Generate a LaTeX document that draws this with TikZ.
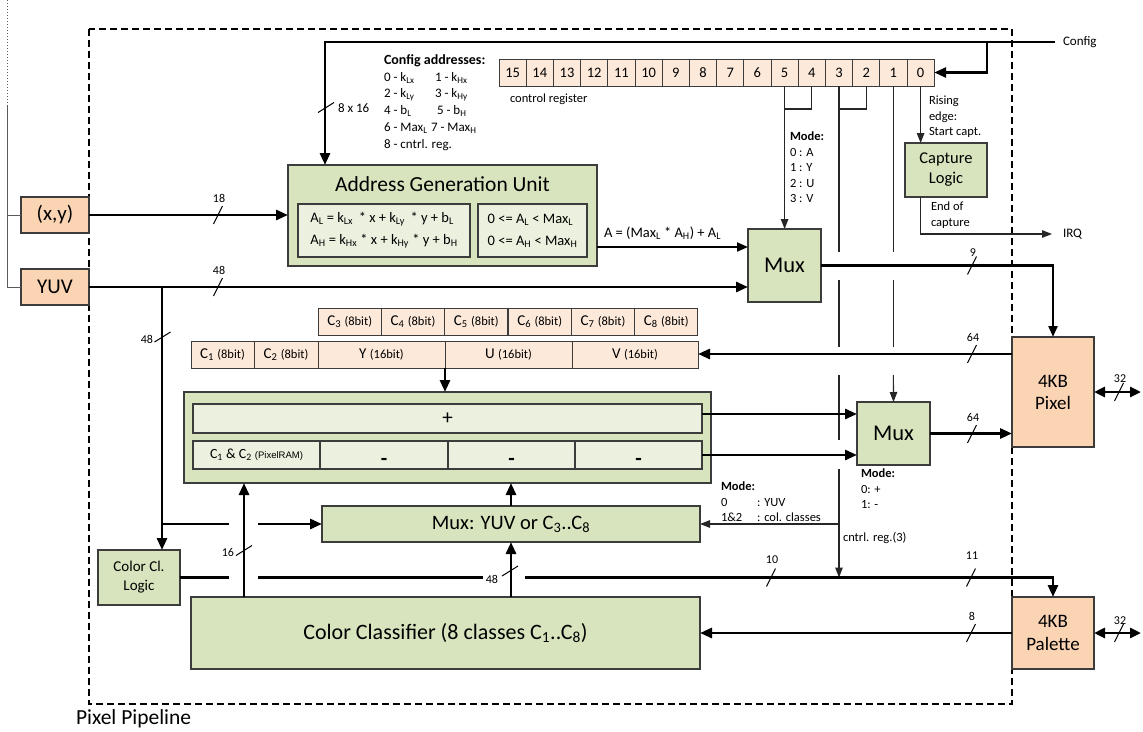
\documentclass[tikz,border=0pt]{standalone}
\usepackage{fontspec}
\setmainfont{Carlito}
\newfontfamily\arialfont{Liberation Sans}
\usetikzlibrary{arrows.meta,calc}

\definecolor{blockgreen}{HTML}{D7E4BD}
\definecolor{innergreen}{HTML}{EBF1DE}
\definecolor{memorange}{HTML}{FBD4B4}
\definecolor{regorange}{HTML}{FDE9D9}
\definecolor{edgegray}{HTML}{3C3C3C}
\definecolor{wiregray}{HTML}{595959}

\newcommand{\sbs}[1]{\textsubscript{#1}}
\newcommand{\setfs}[2]{\fontsize{#1}{#2}\selectfont}
% slash across a horizontal bus: name, x, y, label y, label
\newcommand{\busmarkh}[5]{%
  \draw[markline] (#2-4.5,#3+9) -- (#2+4.5,#3-9);
  \node[lbl] (#1) at (#2+1,#4) {#5};}
% slash across a vertical bus: x, y
\newcommand{\busmarkv}[2]{%
  \draw[markline] (#1-8,#2+5) -- (#1+8,#2-5);}

\begin{document}
\begin{tikzpicture}[x=1pt,y=-1pt,
  every node/.style={inner sep=0pt,outer sep=0pt},
  block/.style={draw=edgegray,line width=1.3pt,align=center},
  greenblock/.style={block,fill=blockgreen},
  innerblock/.style={block,fill=innergreen,line width=1.1pt},
  memblock/.style={block,fill=memorange},
  regcell/.style={block,fill=regorange,line width=1pt},
  lbl/.style={font=\setfs{12}{14}},
  note/.style={font=\setfs{12.5}{15.5},align=left,anchor=north west},
  busline/.style={line width=2.8pt},
  busarrow/.style={busline,-{Triangle[length=12pt,width=10pt]}},
  busboth/.style={busline,{Triangle[length=11pt,width=10pt]}-{Triangle[length=11pt,width=10pt]}},
  medarrow/.style={line width=2pt,-{Triangle[length=11pt,width=9pt]}},
  thinline/.style={line width=1.1pt,draw=black!85},
  thinarrow/.style={thinline,-{Triangle[length=10pt,width=7.5pt]}},
  markline/.style={line width=1pt},
  frame/.style={line width=1.3pt,dash pattern=on 7pt off 4pt},
  sideline/.style={line width=1pt,draw=wiregray},
  cfgtext/.style={font=\setfs{13}{15},anchor=west},
]
\useasboundingbox (0,0) rectangle (1143,731);

% ---------------- pipeline frame ----------------
\draw[frame] (89,29) rectangle (1012,704);
\node[font=\setfs{21.5}{24},anchor=west] (pp) at (76,719) {Pixel Pipeline};

% ---------------- inputs ----------------
\node[memblock,minimum width=68pt,minimum height=36pt,font=\setfs{21}{24}] (xy) at (55,215) {(x,y)};
\node[memblock,minimum width=68pt,minimum height=36pt,font=\setfs{21}{24}] (yuv) at (55,287) {YUV};

\coordinate (ltop) at (7,0);
\coordinate (lmid) at (7,105);
\draw[sideline,dotted] (ltop) -- (lmid);
\draw[sideline] (lmid) |- (yuv.west);
\draw[sideline] (lmid |- xy.west) -- (xy.west);

% ---------------- address generation ----------------
\node[greenblock,minimum width=309pt,minimum height=101pt] (agu) at (442.5,215.5) {};
\node[font=\setfs{21.5}{24}] (agut) at (442.5,184) {Address Generation Unit};
\node[innerblock,minimum width=172pt,minimum height=53pt,align=left,font=\setfs{14.5}{22}] (agu1) at (384,230.5)
  {A\sbs{L} = k\sbs{Lx} \,* x + k\sbs{Ly} \,* y + b\sbs{L}\\A\sbs{H} = k\sbs{Hx} * x + k\sbs{Hy} * y + b\sbs{H}};
\node[innerblock,minimum width=109pt,minimum height=53pt,align=left,font=\setfs{14.5}{22}] (agu2) at (532.5,230.5)
  {0 <= A\sbs{L} < Max\sbs{L}\\0 <= A\sbs{H} < Max\sbs{H}};

% ---------------- config addresses ----------------
\node[cfgtext,font=\setfs{14}{16}\bfseries] (cfa) at (384,61) {Config addresses:};
\node[cfgtext] (cfa0) at (384,78) {0 - k\sbs{Lx}};
\node[cfgtext] (cfa1) at (435,78) {1 - k\sbs{Hx}};
\node[cfgtext] (cfa2) at (384,95) {2 - k\sbs{Ly}};
\node[cfgtext] (cfa3) at (435,95) {3 - k\sbs{Hy}};
\node[cfgtext] (cfa4) at (384,111) {4 - b\sbs{L}};
\node[cfgtext] (cfa5) at (437,111) {5 - b\sbs{H}};
\node[cfgtext] (cfa6) at (384,128) {6 - Max\sbs{L}};
\node[cfgtext] (cfa7) at (431,128) {7 - Max\sbs{H}};
\node[cfgtext] (cfa8) at (384,145) {8 - cntrl. reg.};

% ---------------- control register ----------------
\foreach \b in {0,...,15}{
  \pgfmathsetmacro\cx{499+27.2*(15-\b)+13.6}
  \node[regcell,minimum width=27.2pt,minimum height=27pt,font=\setfs{14.5}{16}] (reg\b) at (\cx,72.5) {\b};
}
\node[font=\setfs{12.5}{14},anchor=west] (creg) at (510,99) {control register};

\node[font=\setfs{13}{15},anchor=west,inner xsep=8pt] (cfg) at (1055,42) {Config};
\coordinate (cfgtap) at (987,42);

% ---------------- capture logic ----------------
\node[greenblock,minimum width=82pt,minimum height=54pt,font=\setfs{16.5}{20}] (cap) at (946,170) {Capture\\Logic};
\node[note] (rise) at (929,96) {Rising\\edge:\\Start capt.};
\node[note] (eoc) at (931,202) {End of\\capture};
\node[font=\setfs{13}{15},anchor=west,inner xsep=11pt] (irq) at (1052,234) {IRQ};

% ---------------- output multiplexer ----------------
\node[greenblock,minimum width=73pt,minimum height=73pt,font=\setfs{22.5}{24}] (mux1) at (784.5,265.5) {Mux};
\node[note] (mode1) at (790,132) {\textbf{Mode:}\\0 : A\\1 : Y\\2 : U\\3 : V};
\node[font=\setfs{14.5}{16},anchor=west] (aform) at (604,233) {A = (Max\sbs{L} * A\sbs{H}) + A\sbs{L}};

% ---------------- pixel memory ----------------
\node[memblock,minimum width=82pt,minimum height=110pt,font=\setfs{19}{22}] (pix) at (1053,392) {4KB\\Pixel};
\node[memblock,minimum width=82pt,minimum height=72pt,font=\setfs{19}{23}] (pal) at (1053,633) {4KB\\Palette};
\coordinate (pixio) at (1141,392);
\coordinate (palio) at (1141,633);

% ---------------- pixel word registers ----------------
\node[regcell,minimum width=63pt,minimum height=27pt,font=\setfs{15}{16}] (c1) at (222.5,354.5) {C\sbs{1} {\setfs{12.5}{13}(8bit)}};
\node[regcell,minimum width=64pt,minimum height=27pt,font=\setfs{15}{16}] (c2) at (286,354.5) {C\sbs{2} {\setfs{12.5}{13}(8bit)}};
\node[regcell,minimum width=127pt,minimum height=27pt,font=\setfs{15}{16}] (cy) at (381.5,354.5) {Y {\setfs{12.5}{13}(16bit)}};
\node[regcell,minimum width=127pt,minimum height=27pt,font=\setfs{15}{16}] (cu) at (508.5,354.5) {U {\setfs{12.5}{13}(16bit)}};
\node[regcell,minimum width=126pt,minimum height=27pt,font=\setfs{15}{16}] (cv) at (635,354.5) {V {\setfs{12.5}{13}(16bit)}};
\foreach \k/\cx in {3/349.7,4/413,5/476.3,6/539.7,7/603,8/666.3}{
  \node[regcell,minimum width=63.3pt,minimum height=27pt,font=\setfs{15}{16}] (c\k) at (\cx,321.5) {C\sbs{\k} {\setfs{12.5}{13}(8bit)}};
}

% ---------------- adder / subtractor ----------------
\node[greenblock,minimum width=527pt,minimum height=91pt] (big) at (447.5,437.5) {};
\node[innerblock,minimum width=509pt,minimum height=29pt,font=\setfs{21}{22}] (plus) at (447.5,418.5) {+};
\node[innerblock,minimum width=127pt,minimum height=28pt,font=\setfs{14}{15}] (m0) at (256.5,455)
  {C\sbs{1} \& C\sbs{2} {\arialfont\setfs{9.5}{10}(PixelRAM)}};
\node[innerblock,minimum width=128pt,minimum height=28pt] (m1) at (384,455) {};
\node[innerblock,minimum width=127pt,minimum height=28pt] (m2) at (511.5,455) {};
\node[innerblock,minimum width=127pt,minimum height=28pt] (m3) at (638.5,455) {};
\node[font=\setfs{21}{22}\bfseries,anchor=base] (m1t) at (m1.center |- 0,465) {-};
\node[font=\setfs{21}{22}\bfseries,anchor=base] (m2t) at (m2.center |- 0,465) {-};
\node[font=\setfs{21}{22}\bfseries,anchor=base] (m3t) at (m3.center |- 0,465) {-};

\node[greenblock,minimum width=73pt,minimum height=63pt,font=\setfs{22.5}{24}] (mux2) at (893.5,433.5) {Mux};
\node[note] (mode2) at (861,469) {\textbf{Mode:}\\0: +\\1: -};

% ---------------- colour classification ----------------
\node[greenblock,minimum width=378pt,minimum height=36pt,font=\setfs{20.5}{24}] (muxyuv) at (511,524) {Mux: YUV or C\sbs{3}..C\sbs{8}};
\node[note] (mode3) at (721,480) {\begin{tabular}{@{}l@{\,}l@{}}\textbf{Mode:}&\\0&: YUV\\1\&2&: col. classes\end{tabular}};
\node[font=\setfs{12.5}{14},anchor=west] (creg3) at (843,538) {cntrl. reg.(3)};
\node[greenblock,minimum width=82pt,minimum height=55pt,font=\setfs{15}{19}] (ccl) at (139,577.5) {Color Cl.\\Logic};
\node[greenblock,minimum width=509pt,minimum height=72pt,font=\setfs{22}{24}] (cc) at (445.5,633) {Color Classifier (8 classes C\sbs{1}..C\sbs{8})};

% ---------------- helper levels ----------------
\coordinate (ytap) at (0,109);
\coordinate (yagu) at (0,247);
\coordinate (ypixrd) at (0,354);
\coordinate (yadd) at (0,414);
\coordinate (ysub) at (0,455);
\coordinate (ysel) at (0,524);
\coordinate (ycls) at (0,577.5);
\coordinate (g1a) at (0,252);
\coordinate (g1b) at (0,280);
\coordinate (g2a) at (0,347);
\coordinate (g2b) at (0,375);
\coordinate (g3a) at (0,440);
\coordinate (g3b) at (0,469);
\coordinate (ysplit) at (162,287);
\coordinate (gapL) at (229,0);
\coordinate (gapR) at (258,0);
\coordinate (cfeed) at (244,0);
\coordinate (cgapL) at (483,0);
\coordinate (cgapR) at (525,0);

% ---------------- connectors ----------------
\draw[busarrow] (cfg.west) -| ([xshift=37pt]agu.north west);
\draw[busarrow] (cfgtap) |- (reg0.east);
\draw[busarrow] (xy.east) -- (xy.east -| agu.west);
\draw[busarrow] (yuv.east) -- (yuv.east -| mux1.west);
\draw[medarrow] (agu.east |- yagu) -- (mux1.west |- yagu);

% control register fields
\draw[thinline] (reg4.south) |- (reg5.south |- ytap);
\draw[thinline] (reg2.south) |- (reg3.south |- ytap);
\draw[thinarrow] (reg5.south) -- (reg5.south |- mux1.north);
\draw[thinline] (reg3.south) -- (reg3.south |- g1a) (reg3.south |- g1b) -- (reg3.south |- g2a)
                (reg3.south |- g2b) -- (reg3.south |- g3a);
\draw[thinarrow] (reg3.south |- g3b) -- (reg3.south |- ycls);
\draw[thinarrow] (reg3.south |- ysel) -- (muxyuv.east |- ysel);
\draw[thinline] (reg1.south) -- (reg1.south |- g1a) (reg1.south |- g1b) -- (reg1.south |- g2a);
\draw[thinarrow] (reg1.south |- g2b) -- (mux2.north);
\draw[thinarrow] (reg0.south) -- (reg0.south |- cap.north);
\draw[thinarrow] (reg0.south |- cap.south) |- (irq.west);

% pixel data path
\draw[medarrow,line width=2.2pt] (mux1.east) -| (pix.north);
\draw[busarrow] (pix.west |- ypixrd) -- (cv.east |- ypixrd);
\draw[busarrow] (cy.south east) -- (cy.south east |- big.north);
\draw[busarrow] (plus.east |- yadd) -- (mux2.west |- yadd);
\draw[busarrow] (m3.east |- ysub) -- (mux2.west |- ysub);
\draw[busarrow] (mux2.east) -- (mux2.east -| pix.west);
\draw[busboth] (pix.east) -- (pixio);
\draw[busboth] (pal.east) -- (palio);

% YUV to colour classification
\draw[busarrow] (ysplit) -- (ysplit |- ccl.north);
\draw[busline] (ysplit |- ysel) -- (gapL |- ysel);
\draw[busarrow] (gapR |- ysel) -- (muxyuv.west |- ysel);
\draw[busarrow] (cfeed |- cc.north) -- (cfeed |- big.south);
\draw[busarrow] (cc.north -| muxyuv.south) -- (muxyuv.south);
\draw[busarrow] (muxyuv.north) -- (muxyuv.north |- big.south);
\draw[busline] (ccl.east) -- (gapL |- ycls);
\draw[busline] (gapR |- ycls) -- (cgapL |- ycls);
\draw[busarrow] (cgapR |- ycls) -| (pal.north);
\draw[busarrow] (pal.west) -- (cc.east);

% ---------------- bus widths ----------------
\busmarkh{w18}{218}{215}{198}{18}
\busmarkh{w48a}{218}{287}{270}{48}
\busmarkh{w9}{972}{265.5}{253}{9}
\busmarkh{w64a}{972}{354}{337}{64}
\busmarkh{w64b}{972}{434}{417}{64}
\busmarkh{w32a}{1119}{392}{379}{32}
\busmarkh{w10}{771}{577.5}{560}{10}
\busmarkh{w11}{971}{577.5}{556}{11}
\busmarkh{w8}{971}{633}{616}{8}
\busmarkh{w32b}{1119}{633}{621}{32}

\busmarkv{326}{107.5}
\node[font=\setfs{13}{15},anchor=west] (w816) at (338,108) {8 x 16};
\busmarkv{162.5}{337}
\node[lbl,anchor=east] (w48b) at (153,339) {48};
\busmarkv{244}{550.5}
\node[lbl,anchor=east] (w16) at (234,552) {16};
\busmarkv{510}{571}
\node[lbl,anchor=east] (w48c) at (498,579) {48};

\end{tikzpicture}
\end{document}
